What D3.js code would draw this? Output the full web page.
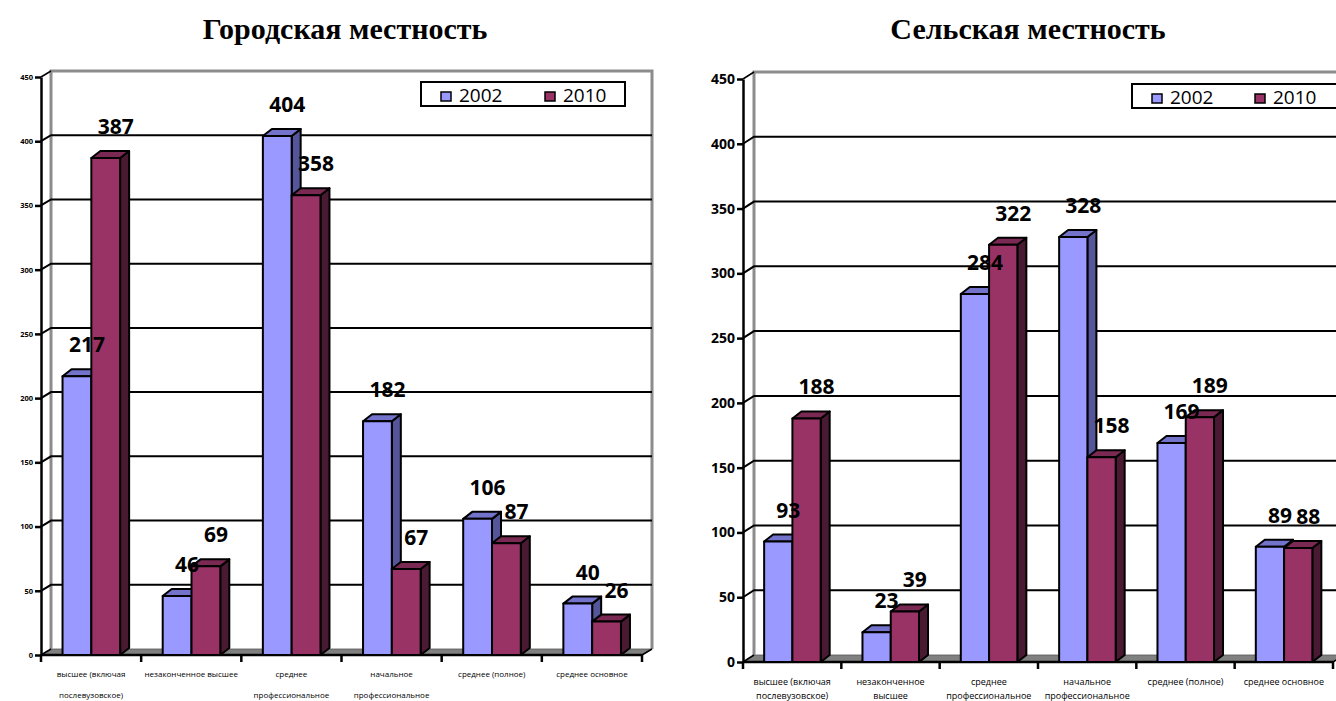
<!DOCTYPE html>
<html><head><meta charset="utf-8">
<script src="https://cdn.jsdelivr.net/npm/d3@7/dist/d3.min.js"></script>
<style>body{margin:0;background:#fff}svg{display:block}</style>
</head><body>
<svg id="c" width="1336" height="701"></svg>
<script>
// ---- data ----
const categories = ["высшее (включая послевузовское)", "незаконченное высшее", "среднее профессиональное", "начальное профессиональное", "среднее (полное)", "среднее основное"];
const urbanLabelLines = [["высшее (включая","послевузовское)"],["незаконченное высшее"],["среднее","профессиональное"],["начальное","профессиональное"],["среднее (полное)"],["среднее основное"]];
const ruralLabelLines = [["высшее (включая","послевузовское)"],["незаконченное","высшее"],["среднее","профессиональное"],["начальное","профессиональное"],["среднее (полное)"],["среднее основное"]];
const years = ["2002", "2010"];
const urban2002 = [217, 46, 404, 182, 106, 40];
const urban2010 = [387, 69, 358, 67, 87, 26];
const rural2002 = [93, 23, 284, 328, 169, 89];
const rural2010 = [188, 39, 322, 158, 189, 88];
const yTicks = [0, 50, 100, 150, 200, 250, 300, 350, 400, 450];
const titles = ["Городская местность", "Сельская местность"];

// ---- styles ----
const colors = {
  "2002": {front: "#9999FF", top: "#7373CC", side: "#555599"},
  "2010": {front: "#993366", top: "#7A2952", side: "#4A1A33"}
};

const svg = d3.select("#c");

function panel(cfg) {
  const g = svg.append("g");
  const x = d3.scaleBand().domain(categories).range([cfg.x0, cfg.x1]).padding(0);
  const bw = x.bandwidth();
  const inner = d3.scaleBand().domain(years).range([bw * 0.215, bw * 0.79]).padding(0);
  const y = d3.scaleLinear().domain([0, 450]).range([cfg.y0, cfg.yTop]);
  const wdx = cfg.wdx, wdy = cfg.wdy, bdx = 9, bdy = -7;

  // title
  g.append("text").attr("x", cfg.titleX).attr("y", 39).attr("text-anchor", "middle")
    .attr("font-family", "Liberation Serif, Times New Roman, serif").attr("font-weight", "bold")
    .attr("font-size", 30).text(cfg.title);

  // floor
  g.append("path").attr("d", `M${cfg.x0},${y(0)} L${cfg.x0 + wdx},${y(0) + wdy} L${cfg.x1 + wdx},${y(0) + wdy} L${cfg.x1},${y(0)} Z`)
    .attr("fill", "#808080").attr("stroke", "#555").attr("stroke-width", 0.8);

  // back wall outline
  g.append("path").attr("d", `M${cfg.x0 + wdx},${y(0) + wdy} L${cfg.x0 + wdx},${y(450) + wdy} L${cfg.x1 + wdx},${y(450) + wdy} L${cfg.x1 + wdx},${y(0) + wdy}`)
    .attr("fill", "none").attr("stroke", "#8c8c8c").attr("stroke-width", 3);

  // gridlines
  yTicks.filter(t => t > 0 && t < 450).forEach(t => {
    g.append("path").attr("d", `M${cfg.x0},${y(t)} L${cfg.x0 + wdx},${y(t) + wdy} L${cfg.x1 + wdx},${y(t) + wdy}`)
      .attr("fill", "none").attr("stroke", "#000").attr("stroke-width", 2);
  });
  yTicks.filter(t => t === 0 || t === 450).forEach(t => {
    g.append("path").attr("d", `M${cfg.x0},${y(t)} L${cfg.x0 + wdx},${y(t) + wdy}`)
      .attr("fill", "none").attr("stroke", "#000").attr("stroke-width", 1.5);
  });

  // y axis
  const yAx = g.append("g").attr("transform", `translate(${cfg.x0},0)`)
    .call(d3.axisLeft(y).tickValues(yTicks).tickSize(6).tickSizeOuter(0));
  yAx.select(".domain").attr("stroke", "#000").attr("stroke-width", 2.5);
  yAx.selectAll(".tick line").attr("stroke", "#000").attr("stroke-width", 2.5);
  yAx.selectAll(".tick text").attr("font-family", "Open Sans, DejaVu Sans, sans-serif")
    .attr("font-weight", "bold").attr("font-size", cfg.yFont).attr("fill", "#000").attr("x", -8);

  // x axis
  g.append("line").attr("x1", cfg.x0).attr("x2", cfg.x1).attr("y1", y(0)).attr("y2", y(0))
    .attr("stroke", "#000").attr("stroke-width", 2.5);
  g.append("line").attr("x1", cfg.x1).attr("x2", cfg.x1 + wdx).attr("y1", y(0)).attr("y2", y(0) + wdy)
    .attr("stroke", "#000").attr("stroke-width", 1.5);
  const bounds = categories.map(c => x(c)).concat([cfg.x1]);
  g.selectAll(".xt").data(bounds).enter().append("line")
    .attr("x1", d => d).attr("x2", d => d).attr("y1", y(0)).attr("y2", y(0) + 7)
    .attr("stroke", "#000").attr("stroke-width", 2.5);

  // x labels
  categories.forEach((c, i) => {
    const t = g.append("text").attr("text-anchor", "middle")
      .attr("font-family", "Open Sans, DejaVu Sans, sans-serif").attr("font-size", cfg.xFont).attr("fill", "#000");
    cfg.lines[i].forEach((ln, j) => {
      t.append("tspan").attr("x", x(c) + bw / 2).attr("y", cfg.xLabY + j * cfg.xLabGap).text(ln);
    });
  });

  // bars
  categories.forEach((c, i) => {
    years.forEach(yr => {
      const v = cfg.series[yr][i];
      const x0 = x(c) + inner(yr), w = inner.bandwidth();
      const top = y(v), bot = y(0);
      const col = colors[yr];
      const bg = g.append("g").attr("stroke", "#000").attr("stroke-width", 2).attr("stroke-linejoin", "round");
      bg.append("path").attr("d", `M${x0 + w},${bot} L${x0 + w + bdx},${bot + bdy} L${x0 + w + bdx},${top + bdy} L${x0 + w},${top} Z`).attr("fill", col.side);
      bg.append("path").attr("d", `M${x0},${top} L${x0 + bdx},${top + bdy} L${x0 + w + bdx},${top + bdy} L${x0 + w},${top} Z`).attr("fill", col.top);
      bg.append("rect").attr("x", x0).attr("y", top).attr("width", w).attr("height", bot - top).attr("fill", col.front);
    });
  });

  // value labels
  categories.forEach((c, i) => {
    years.forEach(yr => {
      const v = cfg.series[yr][i];
      const cx = x(c) + inner(yr) + inner.bandwidth() / 2 + 10;
      g.append("text").attr("x", cx).attr("y", y(v) - 24).attr("text-anchor", "middle")
        .attr("font-family", "Open Sans, DejaVu Sans, sans-serif").attr("font-weight", "bold")
        .attr("font-size", 21).attr("fill", "#000").text(v);
    });
  });

  // legend
  const L = cfg.legend;
  g.append("rect").attr("x", L.x).attr("y", L.y).attr("width", L.w).attr("height", 24)
    .attr("fill", "#fff").attr("stroke", "#000").attr("stroke-width", 2);
  years.forEach((yr, k) => {
    const sx = L.x + 20 + k * L.step;
    g.append("rect").attr("x", sx).attr("y", L.y + 10).attr("width", 10).attr("height", 9)
      .attr("fill", colors[yr].front).attr("stroke", "#000").attr("stroke-width", 1.5);
    g.append("text").attr("x", sx + 18).attr("y", L.y + 20)
      .attr("font-family", "Open Sans, DejaVu Sans, sans-serif").attr("font-size", 19).attr("fill", "#000").text(yr);
  });
}

panel({
  title: titles[0], titleX: 345, x0: 41, x1: 642, y0: 655, yTop: 77, wdx: 10, wdy: -6,
  yFont: 7.5, xFont: 8, xLabY: 677, xLabGap: 21, lines: urbanLabelLines,
  series: {"2002": urban2002, "2010": urban2010},
  legend: {x: 421, y: 82, w: 204, step: 104}
});
panel({
  title: titles[1], titleX: 1028, x0: 743, x1: 1333, y0: 662, yTop: 79, wdx: 11, wdy: -7,
  yFont: 14, xFont: 9, xLabY: 685, xLabGap: 14, lines: ruralLabelLines,
  series: {"2002": rural2002, "2010": rural2010},
  legend: {x: 1132, y: 84, w: 210, step: 103}
});
</script>
</body></html>
